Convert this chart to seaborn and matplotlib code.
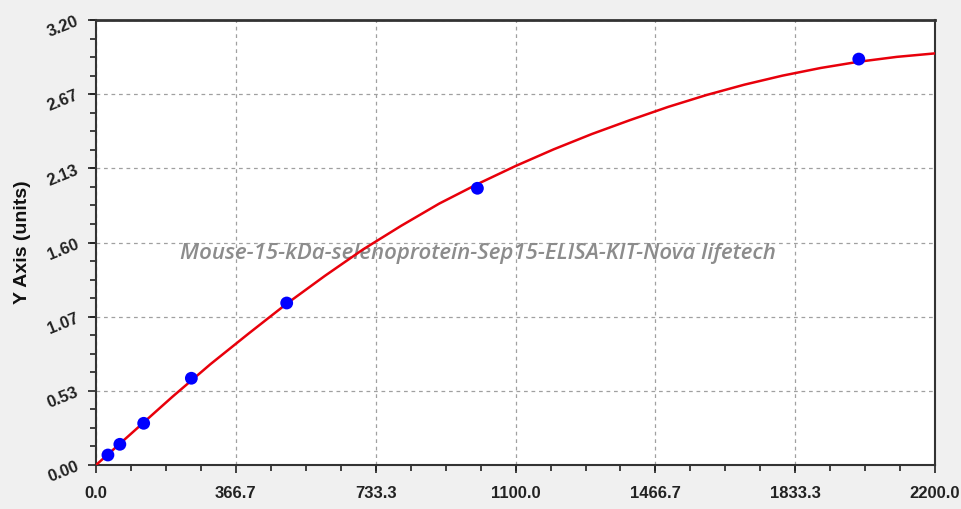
import matplotlib
matplotlib.use("Agg")
import matplotlib.pyplot as plt
import seaborn as sns
import numpy as np
import pandas as pd
from matplotlib.ticker import FixedLocator, AutoMinorLocator

# standard points
conc = [31.25, 62.5, 125, 250, 500, 1000, 2000]
od = [0.072, 0.149, 0.300, 0.624, 1.165, 1.99, 2.919]

# fitted curve
curve_x = [0, 100, 200, 300, 400, 500, 600, 700, 800, 900, 1000, 1100,
           1200, 1300, 1400, 1500, 1600, 1700, 1800, 1900, 2000, 2100, 2200]
curve_y = [0.00, 0.245, 0.49, 0.725, 0.945, 1.16, 1.36, 1.55, 1.72, 1.88,
           2.02, 2.15, 2.27, 2.38, 2.48, 2.575, 2.66, 2.735, 2.80, 2.855,
           2.90, 2.935, 2.96]

x_ticks = [0.0, 366.7, 733.3, 1100.0, 1466.7, 1833.3, 2200.0]
x_labels = ["0.0", "366.7", "733.3", "1100.0", "1466.7", "1833.3", "2200.0"]
y_ticks = [0.00, 0.5333, 1.0667, 1.60, 2.1333, 2.6667, 3.20]
y_labels = ["0.00", "0.53", "1.07", "1.60", "2.13", "2.67", "3.20"]

sns.set_style("ticks")
plt.rcParams['font.family'] = ['Liberation Sans', 'DejaVu Sans']

bg = '#f0f0f0'
fig = plt.figure(figsize=(9.62, 5.09), dpi=100, facecolor=bg)
ax = fig.add_axes([0.0998, 0.0864, 0.8722, 0.8743])
ax.set_facecolor('white')

pts = pd.DataFrame({'x': conc, 'y': od})
crv = pd.DataFrame({'x': curve_x, 'y': curve_y})

sns.lineplot(data=crv, x='x', y='y', ax=ax, color='#e8000b', linewidth=1.8,
             zorder=3)
sns.scatterplot(data=pts, x='x', y='y', ax=ax, color='#0000ff', s=85,
                edgecolor='none', zorder=4)

ax.set_xlim(0, 2200)
ax.set_ylim(0, 3.2)
ax.xaxis.set_major_locator(FixedLocator(x_ticks))
ax.yaxis.set_major_locator(FixedLocator(y_ticks))
ax.xaxis.set_minor_locator(AutoMinorLocator(4))
ax.yaxis.set_minor_locator(AutoMinorLocator(4))
ax.set_xticklabels(x_labels, fontweight='bold', fontsize=12, color='#222222')
ax.set_yticklabels(y_labels, fontweight='bold', fontsize=12, color='#222222',
                   rotation=22)
ax.tick_params(which='major', length=6, width=1.2, color='#222222')
ax.tick_params(which='minor', length=4, width=1.2, color='#222222')
ax.tick_params(axis='y', pad=5)
ax.tick_params(axis='x', pad=9)

ax.grid(True, which='major', color='#a0a0a0', linestyle=(0, (3, 3)),
        linewidth=0.9)
for side in ['left', 'bottom', 'top', 'right']:
    ax.spines[side].set_visible(True)
    ax.spines[side].set_color('#333333')
    ax.spines[side].set_linewidth(1.5)
ax.spines['top'].set_linewidth(2)

ax.set_xlabel('')
ax.set_ylabel('Y Axis (units)', fontsize=14, fontweight='bold',
              color='#111111', labelpad=10)

ax.text(0.455, 0.475, 'Mouse-15-kDa-selenoprotein-Sep15-ELISA-KIT-Nova lifetech',
        transform=ax.transAxes, ha='center', va='center', fontsize=16,
        style='italic', fontweight='semibold', color='#8c8c8c',
        family=['Open Sans', 'DejaVu Sans'], zorder=2)

fig.savefig('out.png', dpi=100, facecolor=bg)
